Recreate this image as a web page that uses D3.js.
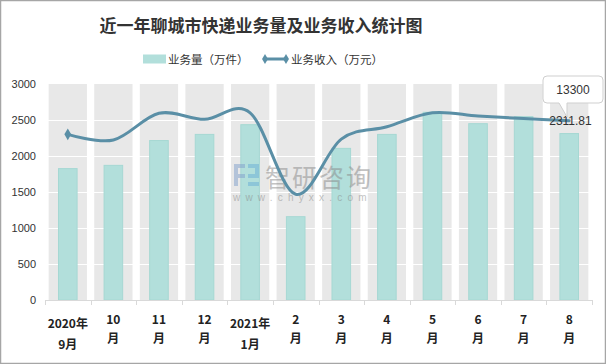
<!DOCTYPE html>
<html><head><meta charset="utf-8">
<script src="https://cdn.jsdelivr.net/npm/d3@7/dist/d3.min.js"></script>
<style>body{margin:0;background:#fff}svg{display:block;font-family:"Noto Sans CJK SC","Liberation Sans",sans-serif}</style>
</head><body>
<svg id="c" width="606" height="364"></svg>
<script>
const months = ["2020-09","2020-10","2020-11","2020-12","2021-01","2021-02","2021-03","2021-04","2021-05","2021-06","2021-07","2021-08"];
const xLabels = [["2020年","9月"],["10","月"],["11","月"],["12","月"],["2021年","1月"],["2","月"],["3","月"],["4","月"],["5","月"],["6","月"],["7","月"],["8","月"]];
const volume = [1825, 1870, 2215, 2300, 2435, 1157, 2106, 2300, 2607, 2449, 2546, 2311.81];
const revenue = [2301, 2222, 2593, 2509, 2600, 1468, 2235, 2407, 2600, 2555, 2520, 2490];
const yTicks = [0, 500, 1000, 1500, 2000, 2500, 3000];
const title = "近一年聊城市快递业务量及业务收入统计图";
const legendNames = ["业务量（万件）", "业务收入（万元）"];
const endLabel = "2311.81";
const calloutLabel = "13300";

const svg = d3.select("#c");
const W = 606, H = 364;
const L = 45, R = 592, T = 84, B = 300;

svg.append("rect").attr("x",0.5).attr("y",0.5).attr("width",W-1).attr("height",H-1)
  .attr("fill","#fff").attr("stroke","#a6a6a6").attr("stroke-width",1.5);

const y = d3.scaleLinear().domain([0,3000]).range([B,T]);
const xBg = d3.scaleBand().domain(months).range([L,R]).paddingInner(0.16).paddingOuter(0.08);
const xBar = d3.scaleBand().domain(months).range([L,R]).paddingInner(0.57).paddingOuter(0.285);
const xC = d => xBg(d) + xBg.bandwidth()/2;

// gray bands
svg.append("g").selectAll("rect").data(months).join("rect")
  .attr("x", d=>xBg(d)).attr("y", y(3000)).attr("width", xBg.bandwidth()).attr("height", y(0)-y(3000))
  .attr("fill","#e8e8e8");
// white gridlines
svg.append("g").selectAll("line").data(yTicks.filter(v=>v>0&&v<3000)).join("line")
  .attr("x1",L).attr("x2",R).attr("y1",d=>Math.round(y(d))+0.5).attr("y2",d=>Math.round(y(d))+0.5)
  .attr("stroke","#fff").attr("stroke-width",1);

// y axis labels
const yAxis = d3.axisLeft(y).tickValues(yTicks).tickFormat(d3.format("d")).tickSize(0).tickPadding(0);
const ga = svg.append("g").attr("transform",`translate(36,0)`).call(yAxis);
ga.select(".domain").remove();
ga.selectAll("text").attr("font-size",11).attr("fill","#333").attr("font-family","Liberation Sans, Arial, sans-serif");

// bars
svg.append("g").selectAll("rect").data(months).join("rect")
  .attr("x", d=>xBar(d)+0.5).attr("y", (d,i)=>y(volume[i])).attr("width", xBar.bandwidth()-1)
  .attr("height",(d,i)=>y(0)-y(volume[i]))
  .attr("fill","#b2dfdb").attr("stroke","#a6d8d3").attr("stroke-width",1);

// watermark
const wm = svg.append("g").attr("opacity",0.5);
wm.append("rect").attr("x",234).attr("y",164).attr("width",11).attr("height",4).attr("fill","#7f9fcc");
wm.append("rect").attr("x",234).attr("y",164).attr("width",4).attr("height",22).attr("fill","#7f9fcc");
wm.append("rect").attr("x",234).attr("y",174).attr("width",11).attr("height",4).attr("fill","#7f9fcc");
wm.append("rect").attr("x",248).attr("y",164).attr("width",11).attr("height",4).attr("fill","#6aaed6");
wm.append("rect").attr("x",255).attr("y",164).attr("width",4).attr("height",14).attr("fill","#6aaed6");
wm.append("rect").attr("x",248).attr("y",174).attr("width",11).attr("height",4).attr("fill","#6aaed6");
wm.append("rect").attr("x",248).attr("y",182).attr("width",11).attr("height",4).attr("fill","#6aaed6");
wm.append("text").attr("x",265).attr("y",175.5).attr("dominant-baseline","central").attr("font-size",25).attr("letter-spacing",2).attr("fill","#888").text("智研咨询");
wm.append("text").attr("x",233).attr("y",197).attr("dominant-baseline","central").attr("font-size",10).attr("letter-spacing",5.2).attr("fill","#888")
  .attr("font-family","Liberation Sans, Arial, sans-serif").text("www.chyxx.com");

// x axis line + ticks
svg.append("line").attr("x1",L).attr("x2",R).attr("y1",B+0.5).attr("y2",B+0.5).attr("stroke","#d9d9d9");
const bounds = months.map(d=>xBg(d)-xBg.step()*0.08).concat([R]);
svg.append("g").selectAll("line").data(bounds).join("line")
  .attr("x1",d=>Math.round(d)+0.5).attr("x2",d=>Math.round(d)+0.5).attr("y1",B).attr("y2",B+5).attr("stroke","#d9d9d9");

// x labels
const gx = svg.append("g");
months.forEach((m,i)=>{
  const lines = xLabels[i];
  const long = lines[0].length>2;
  const ys = long ? [322,343] : [318,337];
  lines.forEach((t,j)=>{
    gx.append("text").attr("x",xC(m)).attr("y",ys[j]).attr("text-anchor","middle")
      .attr("dominant-baseline","central").attr("font-size",12).attr("font-weight","bold").attr("fill","#222").text(t);
  });
});

// line
const line = d3.line().x((d,i)=>xC(months[i])).y(d=>y(d)).curve(d3.curveCardinal.tension(0));
svg.append("path").datum(revenue).attr("d",line).attr("fill","none").attr("stroke","#5a8fa6").attr("stroke-width",3)
  .attr("stroke-linecap","round");
const dm = d3.symbol().type(d3.symbolDiamond).size(40);
svg.append("path").attr("d",dm).attr("transform",`translate(${xC(months[0])},${y(revenue[0])})`).attr("fill","#5a8fa6");

// end label
svg.append("text").attr("x",xC(months[11])-20).attr("y",y(revenue[11])).attr("dominant-baseline","central")
  .attr("font-size",12).attr("fill","#333").attr("font-family","Liberation Sans, Arial, sans-serif").text(endLabel);

// callout
const cx0 = 543, cy0 = 76, cw = 60, ch = 27;
svg.append("path").attr("d",`M${cx0+4},${cy0} H${cx0+cw-4} Q${cx0+cw},${cy0} ${cx0+cw},${cy0+4} V${cy0+ch-4} Q${cx0+cw},${cy0+ch} ${cx0+cw-4},${cy0+ch} H567 V117 L559,${cy0+ch} H${cx0+4} Q${cx0},${cy0+ch} ${cx0},${cy0+ch-4} V${cy0+4} Q${cx0},${cy0} ${cx0+4},${cy0} Z`)
  .attr("fill","#fff").attr("stroke","#cfcfcf").attr("stroke-width",1);
svg.append("text").attr("x",cx0+cw/2).attr("y",cy0+ch/2).attr("text-anchor","middle").attr("dominant-baseline","central")
  .attr("font-size",12).attr("fill","#333").attr("font-family","Liberation Sans, Arial, sans-serif").text(calloutLabel);

// title
svg.append("text").attr("x",261).attr("y",24).attr("text-anchor","middle").attr("dominant-baseline","central")
  .attr("font-size",17).attr("font-weight","bold").attr("fill","#333").text(title);

// legend
const lg = svg.append("g");
lg.append("rect").attr("x",143).attr("y",54.5).attr("width",23).attr("height",9).attr("fill","#b2dfdb");
lg.append("text").attr("x",168).attr("y",59).attr("dominant-baseline","central").attr("font-size",11.5).attr("fill","#333").text(legendNames[0]);
lg.append("line").attr("x1",265).attr("x2",286).attr("y1",59).attr("y2",59).attr("stroke","#5a8fa6").attr("stroke-width",3);
[265,286].forEach(px=>lg.append("path").attr("d",d3.symbol().type(d3.symbolDiamond).size(30)).attr("transform",`translate(${px},59)`).attr("fill","#5a8fa6"));
lg.append("text").attr("x",291).attr("y",59).attr("dominant-baseline","central").attr("font-size",11.5).attr("fill","#333").text(legendNames[1]);
</script>
</body></html>
